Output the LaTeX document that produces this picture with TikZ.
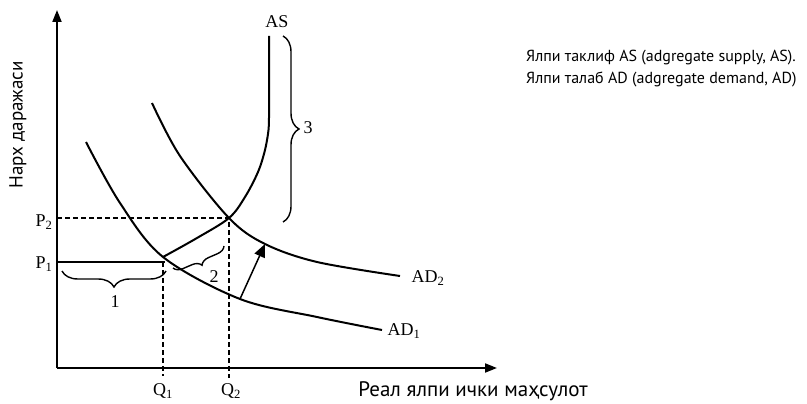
\documentclass[tikz,border=0pt]{standalone}
\usepackage{fontspec}
\setmainfont{Liberation Serif}
\newfontfamily\labelfont{PT Sans}
\usepackage{tikz}
\usetikzlibrary{arrows.meta, positioning, decorations.pathreplacing}

\begin{document}
\begin{tikzpicture}[x=1pt, y=-1pt, font=\fontsize{18}{20}\selectfont]
        % Styles
        \tikzstyle{axis} = [line width=2pt, -{Triangle[length=12pt, width=9pt]}]
        \tikzstyle{curve} = [line width=2pt]
        \tikzstyle{guide} = [line width=1.4pt, dash pattern=on 5pt off 3pt]
        \tikzstyle{bracket} = [line width=1.4pt, decorate]
        \tikzstyle{moveup} = [line width=1.5pt, -{Triangle[length=13pt, width=11pt]}]
        \tikzstyle{caption} = [font=\labelfont\fontsize{19}{21}\selectfont]
        \tikzstyle{legend} = [anchor=west, inner sep=0pt, font=\labelfont\fontsize{16}{18}\selectfont]

        \useasboundingbox (0,0) rectangle (807,404);

        % Points
        \coordinate (O) at (57,368);
        \coordinate (ytop) at (57,10);
        \coordinate (xend) at (497,368);
        \coordinate (E1) at (163,257);
        \coordinate (E2) at (229,218);
        \coordinate (F) at (240,299);
        \coordinate (G) at (265,244);
        \coordinate (P2y) at (57,218);
        \coordinate (P1y) at (57,262);
        \coordinate (H) at (165,262);
        \coordinate (Q1top) at (163,262);
        \coordinate (Q1foot) at (163,376);
        \coordinate (Q2foot) at (229,378);

        % Nodes
        \node (p2) at (44,222) {P\textsubscript{2}};
        \node (p1) at (44,264) {P\textsubscript{1}};
        \node [inner sep=1pt] (q1) at (163,391) {Q\textsubscript{1}};
        \node [inner sep=1pt] (q2) at (231,391) {Q\textsubscript{2}};
        \node (as) at (277,22) {AS};
        \node [anchor=west] (ad2) at (408,278) {AD\textsubscript{2}};
        \node [anchor=west] (ad1) at (384,331) {AD\textsubscript{1}};
        \node (one) at (115,302) {1};
        \node (two) at (214,277) {2};
        \node (three) at (308,128) {3};
        \node [caption, rotate=90] (price) at (18,125) {Нарх даражаси};
        \node [caption, font=\labelfont\fontsize{21}{23}\selectfont] (output) at (473,391) {Реал ялпи ички маҳсулот};
        \node [legend] (supply) at (526,58) {Ялпи таклиф AS (adgregate supply, AS).};
        \node [legend] (demand) at (526,79) {Ялпи талаб AD (adgregate demand, AD)};

        % Axes
        \draw [axis] (O) -- (ytop);
        \draw [axis] (O) -- (xend);

        % Curves
        \draw [curve] plot [smooth, tension=0.55] coordinates {(86,142) (120,203) (E1) (F) (317,317) (382,330)};
        \draw [curve] plot [smooth, tension=0.55] coordinates {(152,103) (180,156) (E2) (G) (317,262) (400,276)};
        \draw [curve] plot [smooth, tension=0.55] coordinates {(E1) (197,238) (E2) (245,197) (258,172) (265,150) (268.5,130) (269,115)} -- (269,36);

        % Guides
        \draw [guide] (P2y) -- (E2) -- (Q2foot);
        \draw [guide] (Q1top) -- (Q1foot);
        \draw [line width=2pt] (P1y) -- (H);

        % Braces
        \draw [bracket, decoration={brace, amplitude=16pt}] (166,271) -- (62,271);
        \draw [bracket, decoration={brace, amplitude=9pt}] (224,246) -- (173,268);
        \draw [bracket, decoration={brace, amplitude=16pt}] (283,36) -- (283,222);

        % Shift
        \draw [moveup] (F) -- (G);
\end{tikzpicture}
\end{document}
